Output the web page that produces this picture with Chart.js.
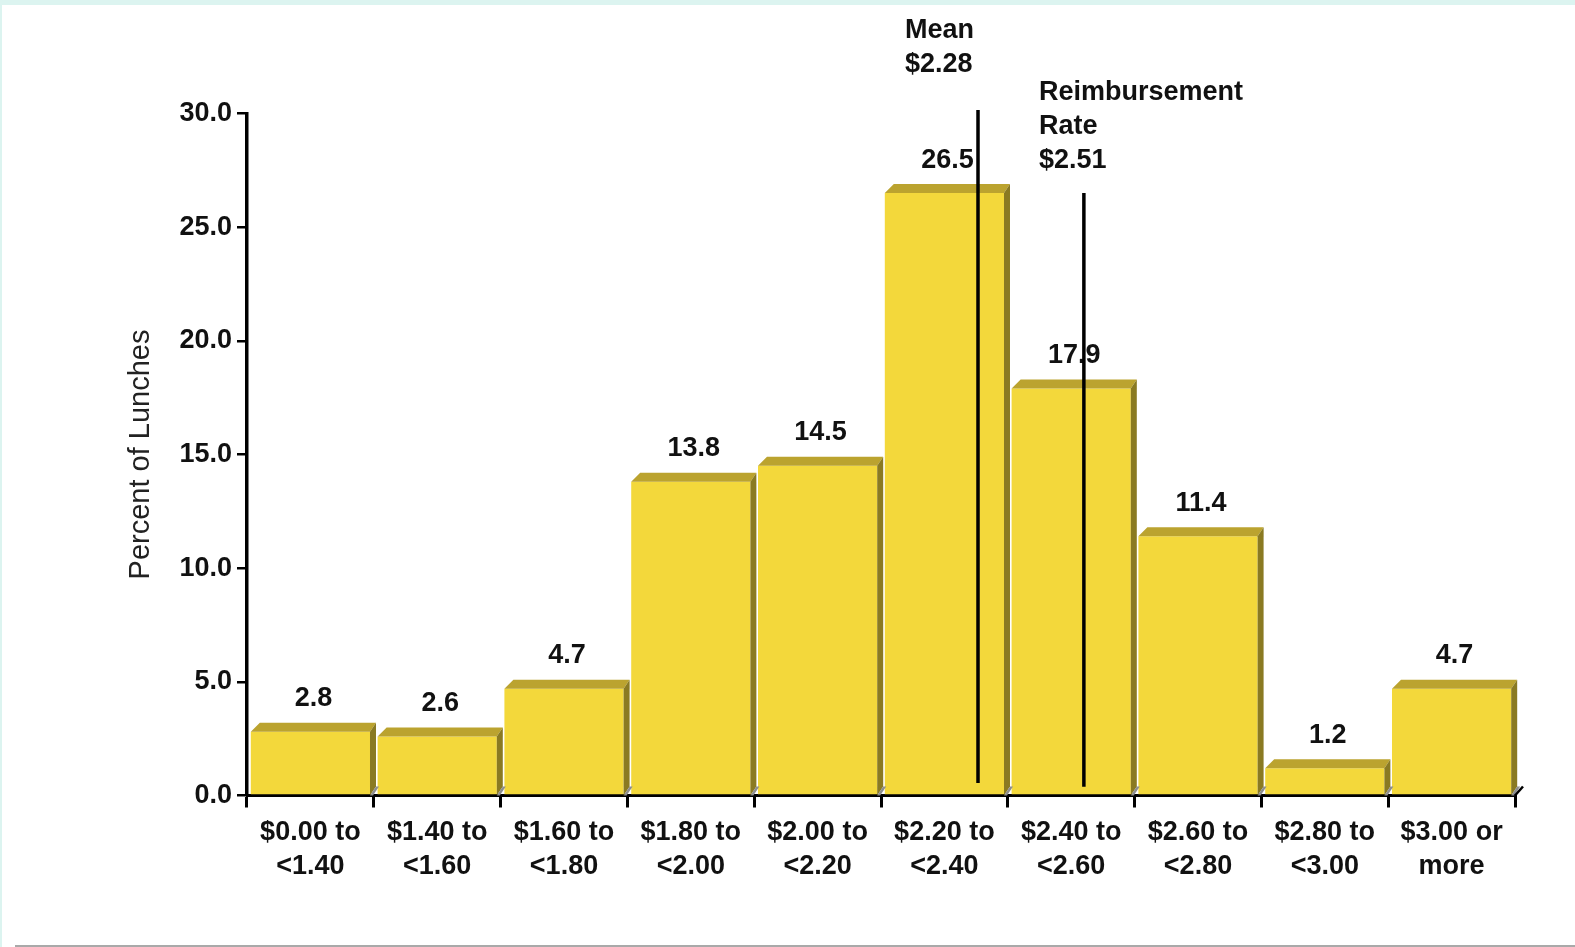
<!DOCTYPE html>
<html><head>
<meta charset="UTF-8">
<title>Distribution of Lunch Costs</title>
<script src="https://cdn.jsdelivr.net/npm/chart.js@4"></script>
<style>
    html, body { margin: 0; padding: 0; background: #fff; }
    body {
        width: 1575px;
        height: 947px;
        position: relative;
        overflow: hidden;
        font-family: 'Liberation Sans', Arial, sans-serif;
    }
    .frame {
        position: absolute;
        left: 0; top: 0;
        width: 1575px; height: 947px;
        box-sizing: border-box;
        border-top: 5px solid #dcf4f0;
        border-left: 2px solid #dcf4f0;
    }
    .rule {
        position: absolute;
        left: 15px; right: 0; top: 945px;
        height: 2px;
        background: #a9a9a9;
    }
    #lunchChart { position: absolute; left: 0; top: 0; }
</style>
</head>
<body>
<div class="frame"></div>
<div class="rule"></div>
<canvas id="lunchChart" width="1575" height="947"></canvas>

<script>
    const costRanges = [
        ['$0.00 to', '<1.40'], ['$1.40 to', '<1.60'], ['$1.60 to', '<1.80'],
        ['$1.80 to', '<2.00'], ['$2.00 to', '<2.20'], ['$2.20 to', '<2.40'],
        ['$2.40 to', '<2.60'], ['$2.60 to', '<2.80'], ['$2.80 to', '<3.00'],
        ['$3.00 or', 'more']
    ];
    const percentLunches = [2.8, 2.6, 4.7, 13.8, 14.5, 26.5, 17.9, 11.4, 1.2, 4.7];
    const yMin = 0, yMax = 30, yStep = 5;

    // reference lines: text, place on the category axis, span in percent
    const markerText = [['Mean', '$2.28'], ['Reimbursement', 'Rate', '$2.51']];
    const markerIndex = [5.265, 6.1];
    const markerSpan = [[0.55, 30.15], [0.38, 26.5]];

    const FONT = "'Liberation Sans', Arial, sans-serif";
    const FRONT = '#f3d83b', TOP = '#bba32f', SIDE = '#8a7a22', SHADOW = '#8e8e8e';
    const DX_L = 9, DX_R = 6, DY = 9;
    const markerTextPos = [{ dx: -73, y: 31 }, { dx: -45, y: 93 }];

    Chart.defaults.font.family = FONT;

    // top and right faces of each bar
    const depthBars = {
        id: 'depthBars',
        afterDatasetsDraw(chart) {
            const ctx = chart.ctx;
            const base = chart.scales.y.getPixelForValue(0);
            chart.getDatasetMeta(0).data.forEach(bar => {
                const { x, y, width } = bar.getProps(['x', 'y', 'width'], true);
                const L = x - width / 2, R = x + width / 2;
                ctx.save();
                ctx.fillStyle = TOP;
                ctx.beginPath();
                ctx.moveTo(L, y);
                ctx.lineTo(L + DX_L, y - DY);
                ctx.lineTo(R + DX_R, y - DY);
                ctx.lineTo(R, y);
                ctx.closePath();
                ctx.fill();

                ctx.fillStyle = SIDE;
                ctx.beginPath();
                ctx.moveTo(R, y);
                ctx.lineTo(R + DX_R, y - DY);
                ctx.lineTo(R + DX_R, base - DY);
                ctx.lineTo(R, base);
                ctx.closePath();
                ctx.fill();

                ctx.fillStyle = SHADOW;
                ctx.beginPath();
                ctx.moveTo(R, base);
                ctx.lineTo(R + DX_R, base - DY);
                ctx.lineTo(R + DX_R + 3, base - DY);
                ctx.lineTo(R + 3, base);
                ctx.closePath();
                ctx.fill();
                ctx.restore();
            });
        }
    };

    // value labels, the floor edge and the two reference lines
    const overlays = {
        id: 'overlays',
        afterDraw(chart) {
            const ctx = chart.ctx;
            const xs = chart.scales.x, ys = chart.scales.y;
            const base = ys.getPixelForValue(0);
            ctx.save();

            ctx.font = 'bold 27px ' + FONT;
            ctx.fillStyle = '#111';
            ctx.textAlign = 'center';
            ctx.textBaseline = 'middle';
            chart.getDatasetMeta(0).data.forEach((bar, i) => {
                ctx.fillText(percentLunches[i].toFixed(1), bar.x + 3, bar.y - 33);
            });

            ctx.strokeStyle = '#000';
            ctx.lineWidth = 2.5;
            ctx.beginPath();
            ctx.moveTo(xs.right, base);
            ctx.lineTo(xs.right + 8, base - 9);
            ctx.stroke();

            ctx.lineWidth = 3.5;
            markerIndex.forEach((pos, i) => {
                const px = xs.getPixelForValue(pos);
                ctx.beginPath();
                ctx.moveTo(px, ys.getPixelForValue(markerSpan[i][0]));
                ctx.lineTo(px, ys.getPixelForValue(markerSpan[i][1]));
                ctx.stroke();

                ctx.textAlign = 'left';
                markerText[i].forEach((line, j) => {
                    ctx.fillText(line, px + markerTextPos[i].dx, markerTextPos[i].y + j * 34);
                });
            });
            ctx.restore();
        }
    };

    new Chart(document.getElementById('lunchChart'), {
        type: 'bar',
        data: {
            labels: costRanges,
            datasets: [{
                data: percentLunches,
                backgroundColor: FRONT,
                borderWidth: 0,
                categoryPercentage: 1,
                barPercentage: 0.94
            }]
        },
        options: {
            responsive: false,
            animation: false,
            layout: { padding: { top: 113.5, right: 60, left: 0, bottom: 0 } },
            plugins: {
                legend: { display: false },
                tooltip: { enabled: false }
            },
            scales: {
                x: {
                    z: 1,
                    grid: {
                        offset: true,
                        drawOnChartArea: false,
                        drawTicks: true,
                        tickLength: 12,
                        color: '#000',
                        lineWidth: 3
                    },
                    border: { display: true, color: '#000', width: 3 },
                    ticks: {
                        color: '#111',
                        padding: 8,
                        maxRotation: 0,
                        autoSkip: false,
                        font: { size: 27, weight: 'bold', lineHeight: 1.26 }
                    },
                    afterFit(scale) { scale.height = 151.5; }
                },
                y: {
                    z: 1,
                    min: yMin,
                    max: yMax,
                    grid: {
                        drawOnChartArea: false,
                        drawTicks: true,
                        tickLength: 10,
                        color: '#000',
                        lineWidth: 2.5
                    },
                    border: { display: true, color: '#000', width: 3.5 },
                    ticks: {
                        stepSize: yStep,
                        color: '#111',
                        padding: 5,
                        font: { size: 27, weight: 'bold' },
                        callback: v => Number(v).toFixed(1)
                    },
                    title: {
                        display: true,
                        text: 'Percent of Lunches',
                        color: '#222',
                        font: { size: 29, weight: 'normal' },
                        padding: { top: 123.6, bottom: 0 }
                    },
                    afterFit(scale) { scale.width = 247; }
                }
            }
        },
        plugins: [depthBars, overlays]
    });
</script>
</body>
</html>
